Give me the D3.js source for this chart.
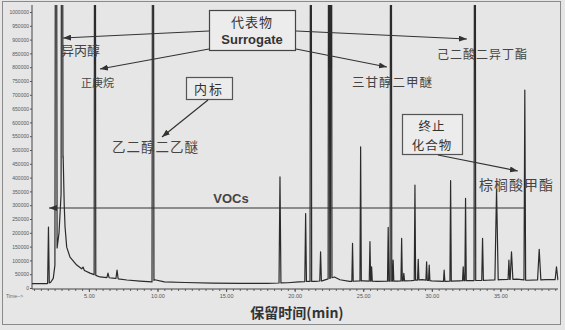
<!DOCTYPE html>
<html><head><meta charset="utf-8">
<script src="https://cdn.jsdelivr.net/npm/d3@7"></script>
<style>
body{margin:0;background:#e6e6e6;}
svg{display:block;}
</style>
</head><body>
<script>
// ---------- data ----------
// baseline of the chromatogram trace (time in min, abundance)
const baseTimes  = [0.85, 1.94, 2.2, 2.4, 2.82, 3.12, 3.2, 3.26, 3.38, 3.62, 4.11, 4.59, 5.08, 5.81, 6.75, 7.77, 8.72, 9.6, 9.8, 10.5, 12, 14, 16, 18, 19.5, 20.3, 21.0, 21.5, 22.0, 22.9, 23.3, 24, 25, 26, 27.5, 28.5, 29.3, 30, 31, 32, 33, 34, 35, 36.2, 37, 38.3, 39.2];
const baseValues = [16000, 16000, 20000, 35000, 200000, 480000, 300000, 221000, 148000, 112000, 83000, 65000, 54000, 40000, 36000, 29000, 25000, 22000, 30000, 22000, 20000, 18000, 17000, 17000, 19000, 22000, 24000, 24000, 26000, 40000, 30000, 24000, 26000, 24000, 25000, 27000, 30000, 26000, 24000, 26000, 27000, 28000, 30000, 32000, 28000, 30000, 30000];
// peaks: retention time (min), apex abundance, half width (min)
const peakTimes   = [2.05, 2.6, 3.04, 4.57, 5.44, 6.39, 7.05, 9.67, 18.93, 20.8, 21.18, 21.89, 22.5, 22.66, 24.22, 24.81, 25.49, 25.61, 26.82, 27.02, 27.18, 27.8, 27.96, 28.77, 29.01, 29.62, 29.81, 30.9, 31.37, 32.29, 32.46, 33.14, 33.7, 34.72, 35.62, 35.81, 36.78, 37.83, 39.09];
const peakHeights = [221000, 3000000, 3000000, 76000, 3000000, 54000, 65000, 3000000, 403000, 270000, 3000000, 131000, 3000000, 3000000, 162000, 511000, 168000, 77000, 220000, 3000000, 101000, 180000, 53000, 373000, 104000, 95000, 83000, 65000, 389000, 77000, 325000, 3000000, 180000, 358000, 101000, 131000, 717000, 140000, 77000];
const peakWidths  = [0.06, 0.08, 0.07, 0.1, 0.06, 0.08, 0.08, 0.07, 0.07, 0.06, 0.06, 0.06, 0.06, 0.06, 0.05, 0.05, 0.05, 0.05, 0.05, 0.06, 0.05, 0.05, 0.05, 0.05, 0.05, 0.05, 0.05, 0.05, 0.05, 0.05, 0.05, 0.06, 0.06, 0.12, 0.06, 0.1, 0.06, 0.12, 0.1];

const xTickTimes  = [5, 10, 15, 20, 25, 30, 35];
const xTickLabels = ["5.00", "10.00", "15.00", "20.00", "25.00", "30.00", "35.00"];
const yTickValues = [0, 50000, 100000, 150000, 200000, 250000, 300000, 350000, 400000, 450000, 500000, 550000, 600000, 650000, 700000, 750000, 800000, 850000, 900000, 950000, 1000000];
const yTickLabels = ["0", "50000", "100000", "150000", "200000", "250000", "300000", "350000", "400000", "450000", "500000", "550000", "600000", "650000", "700000", "750000", "800000", "850000", "900000", "950000", "1000000"];

const xTitle = "保留时间(min)";
const surrogateTitle = ["代表物", "Surrogate"];
const istdTitle = "内标";
const stopTitle = ["终止", "化合物"];
const vocsLabel = "VOCs";
const compoundNames = ["异丙醇", "正庚烷", "乙二醇二乙醚", "三甘醇二甲醚", "己二酸二异丁酯", "棕榈酸甲酯"];
const compoundTimes = [3.04, 5.44, 9.67, 27.02, 33.14, 36.78];

// ---------- layout ----------
const W = 565, H = 330;
const x = d3.scaleLinear().domain([0.85, 39.2]).range([32, 558]);
const y = d3.scaleLinear().domain([0, 1000000]).range([288, 12]);

const svg = d3.select("body").append("svg").attr("width", W).attr("height", H);
const CJK = "'Noto Sans CJK SC','Noto Sans',sans-serif";
const LAT = "'Liberation Sans',Arial,sans-serif";

svg.append("rect").attr("x", 0).attr("y", 0).attr("width", W).attr("height", H).attr("fill", "#e6e6e6");
svg.append("rect").attr("x", 2.5).attr("y", 1.5).attr("width", 558).attr("height", 323)
  .attr("fill", "none").attr("stroke", "#8a8a8a").attr("stroke-width", 1);

const defs = svg.append("defs");
defs.append("clipPath").attr("id", "plotclip").append("rect")
  .attr("x", 32).attr("y", 5).attr("width", 527).attr("height", 285);
defs.append("marker").attr("id", "arr").attr("viewBox", "0 0 8 6")
  .attr("refX", 8).attr("refY", 3).attr("markerWidth", 8).attr("markerHeight", 6)
  .attr("markerUnits", "userSpaceOnUse").attr("orient", "auto")
  .append("path").attr("d", "M0,0L8,3L0,6Z").attr("fill", "#333");

// ---------- axes ----------
const yAxis = svg.append("g").attr("transform", "translate(32,0)")
  .call(d3.axisLeft(y).tickValues(yTickValues).tickFormat((d, i) => yTickLabels[i]).tickSize(2).tickPadding(1));
yAxis.select(".domain").attr("d", "M0,5V289").attr("stroke", "#444");
yAxis.selectAll("text").attr("font-size", 5).attr("font-family", LAT).attr("fill", "#555");
yAxis.selectAll(".tick line").attr("stroke", "#555");

const xMinor = svg.append("g").attr("transform", "translate(0,289)")
  .call(d3.axisBottom(x).tickValues(d3.range(1, 39.1, 0.5)).tickFormat("").tickSize(2));
xMinor.select(".domain").remove();
xMinor.selectAll(".tick line").attr("stroke", "#666");

const xAxis = svg.append("g").attr("transform", "translate(0,289)")
  .call(d3.axisBottom(x).tickValues(xTickTimes).tickFormat((d, i) => xTickLabels[i]).tickSize(3).tickPadding(2));
xAxis.select(".domain").attr("d", "M32,0H558").attr("stroke", "#444");
xAxis.selectAll("text").attr("font-size", 5.5).attr("font-family", LAT).attr("fill", "#555");
xAxis.selectAll(".tick line").attr("stroke", "#555");

svg.append("text").attr("x", 6).attr("y", 298).attr("font-size", 5).attr("font-family", LAT)
  .attr("fill", "#666").text("Time-->");

svg.append("text").attr("x", 297).attr("y", 318).attr("text-anchor", "middle")
  .attr("font-size", 14).attr("font-weight", "bold").attr("font-family", CJK).attr("fill", "#333")
  .text(xTitle);

// ---------- trace ----------
function baseAt(t) {
  const i = d3.bisectRight(baseTimes, t);
  if (i <= 0) return baseValues[0];
  if (i >= baseTimes.length) return baseValues[baseValues.length - 1];
  const t0 = baseTimes[i - 1], t1 = baseTimes[i];
  return baseValues[i - 1] + (baseValues[i] - baseValues[i - 1]) * (t - t0) / (t1 - t0);
}
const pts = [];
baseTimes.forEach((t, i) => {
  const inside = peakTimes.some((p, j) => Math.abs(t - p) < peakWidths[j]);
  if (!inside) pts.push({t: t, v: baseValues[i]});
});
peakTimes.forEach((p, j) => {
  const w = peakWidths[j];
  pts.push({t: p - w, v: baseAt(p - w)});
  pts.push({t: p, v: peakHeights[j]});
  pts.push({t: p + w, v: baseAt(p + w)});
});
pts.sort((a, b) => a.t - b.t);

svg.append("g").attr("clip-path", "url(#plotclip)").append("path")
  .attr("d", d3.line().x(d => x(d.t)).y(d => y(d.v))(pts))
  .attr("fill", "none").attr("stroke", "#2b2b2b").attr("stroke-width", 1.2)
  .attr("stroke-linejoin", "round");

// ---------- annotations ----------
const ann = svg.append("g");
function arrow(x1, y1, x2, y2) {
  ann.append("line").attr("x1", x1).attr("y1", y1).attr("x2", x2).attr("y2", y2)
    .attr("stroke", "#333").attr("stroke-width", 1.2).attr("marker-end", "url(#arr)");
}
function label(txt, xx, yy, size, anchor, ls, col) {
  ann.append("text").attr("x", xx).attr("y", yy).attr("font-size", size)
    .attr("font-family", CJK).attr("text-anchor", anchor || "start")
    .attr("letter-spacing", ls || 0).attr("fill", col || "#444").text(txt);
}

// Surrogate box
ann.append("rect").attr("x", 209.5).attr("y", 10.5).attr("width", 86).attr("height", 40)
  .attr("fill", "#ececec").attr("stroke", "#444").attr("stroke-width", 1.2);
label(surrogateTitle[0], 252, 27, 13, "middle", 1, "#333");
ann.append("text").attr("x", 252).attr("y", 44).attr("text-anchor", "middle")
  .attr("font-size", 13).attr("font-weight", "bold").attr("font-family", LAT).attr("fill", "#333")
  .text(surrogateTitle[1]);
arrow(209, 31, x(compoundTimes[0]) + 1, 38);
arrow(209, 49, x(compoundTimes[1]) + 5, 69);
arrow(296, 31, x(compoundTimes[4]) - 8, 39);
arrow(296, 49, x(compoundTimes[3]) - 4, 67);

label(compoundNames[0], 61, 55, 13, "start", 0);
label(compoundNames[1], 81, 87, 11, "start", 0);

// internal standard
ann.append("rect").attr("x", 186.5).attr("y", 77.5).attr("width", 46).attr("height", 22)
  .attr("fill", "#ececec").attr("stroke", "#555").attr("stroke-width", 1.2);
label(istdTitle, 209, 94, 13, "middle", 2, "#333");
arrow(208, 100, x(compoundTimes[2]) + 9, 137);
label(compoundNames[2], 112, 152, 13.5, "start", 1);

label(compoundNames[3], 352, 87, 12.5, "start", 1);
label(compoundNames[4], 437, 59, 12, "start", 1);

// stop compound
ann.append("rect").attr("x", 402.5).attr("y", 114.5).attr("width", 60).attr("height", 40)
  .attr("fill", "#ececec").attr("stroke", "#555").attr("stroke-width", 1.2);
label(stopTitle[0], 432, 130.5, 12.5, "middle", 1, "#333");
label(stopTitle[1], 432, 149.5, 12.5, "middle", 1, "#333");
arrow(438, 155, x(compoundTimes[5]) - 7, 171);
label(compoundNames[5], 479, 190, 14, "start", 1);

// VOCs
ann.append("line").attr("x1", x(compoundTimes[5])).attr("y1", 208).attr("x2", 49).attr("y2", 208)
  .attr("stroke", "#333").attr("stroke-width", 1.2).attr("marker-end", "url(#arr)");
ann.append("text").attr("x", 231).attr("y", 203).attr("text-anchor", "middle")
  .attr("font-size", 13).attr("font-weight", "bold").attr("font-family", LAT).attr("fill", "#444")
  .text(vocsLabel);
</script>
</body></html>
